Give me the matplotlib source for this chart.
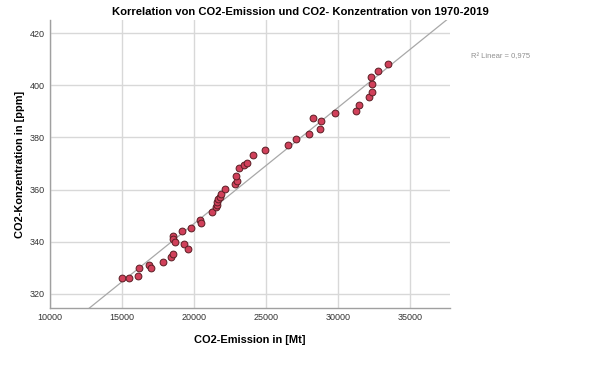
import numpy as np
import matplotlib
matplotlib.use('Agg')
import matplotlib.pyplot as plt

plt.rcParams['font.family'] = ['Liberation Sans', 'DejaVu Sans']

# values
emission = [14979, 15486, 16090, 16181, 16875, 16991, 17870, 18380, 18542,
            18519, 18580, 18680, 19144, 19329, 19583, 19792, 20417, 20486,
            21273, 21549, 21574, 21620, 21690, 21806, 21898, 22130, 22824,
            23009, 22940, 23148, 23449, 23681, 24097, 24977, 26574, 27130,
            27986, 28310, 28750, 28866, 29838, 31270, 31481, 32176, 32361,
            32384, 32292, 32824, 33495]
concentration = [326.0, 326.0, 327.0, 330.1, 331.2, 330.1, 332.2, 334.1, 335.1,
                 342.0, 341.0, 340.0, 344.1, 339.2, 337.2, 345.1, 348.2, 347.2,
                 351.2, 353.2, 354.1, 355.1, 356.2, 357.2, 358.1, 360.1, 362.2,
                 363.1, 365.3, 368.2, 369.3, 370.1, 373.2, 375.3, 377.2, 379.2,
                 381.3, 387.3, 383.2, 386.3, 389.2, 390.3, 392.3, 395.3, 397.3,
                 400.3, 403.2, 405.3, 408.3]
r2_text = 'R² Linear = 0,975'

x = np.array(emission)
y = np.array(concentration)
slope, icpt = np.polyfit(x, y, 1)

fig = plt.figure(figsize=(6, 3.71), dpi=100)
ax = fig.add_axes([0.0833, 0.170, 0.6667, 0.776])

xmin, xmax = 10000, 37800
ymin, ymax = 314.6, 425
xl = np.array([xmin, xmax])
ax.plot(xl, slope * xl + icpt, color='#a8a8a8', lw=0.9, zorder=2)
ax.scatter(x, y, s=24, color='#d0405a', edgecolors='#5a1e24', linewidths=0.7, zorder=3)

ax.set_xlim(xmin, xmax)
ax.set_ylim(ymin, ymax)
ax.set_xticks([10000, 15000, 20000, 25000, 30000, 35000])
ax.set_yticks([320, 340, 360, 380, 400, 420])
ax.grid(True, color='#d8d8d8', lw=1.0)
ax.set_axisbelow(True)
for s in ['top', 'right']:
    ax.spines[s].set_visible(False)
for s in ['left', 'bottom']:
    ax.spines[s].set_color('#a0a0a0')
    ax.spines[s].set_linewidth(1.0)
ax.tick_params(length=0, labelsize=6.5, colors='#333333', pad=4)

fig.text(0.5, 0.968, 'Korrelation von CO2-Emission und CO2- Konzentration von 1970-2019',
         fontsize=8.1, fontweight='bold', ha='center', va='center')
ax.set_xlabel('CO2-Emission in [Mt]', fontsize=7.9, fontweight='bold', labelpad=9)
ax.set_ylabel('CO2-Konzentration in [ppm]', fontsize=7.9, fontweight='bold', labelpad=3)

fig.text(0.785, 0.848, r2_text, fontsize=5.5, color='#909090', va='center')

fig.savefig('out.png', dpi=100)
